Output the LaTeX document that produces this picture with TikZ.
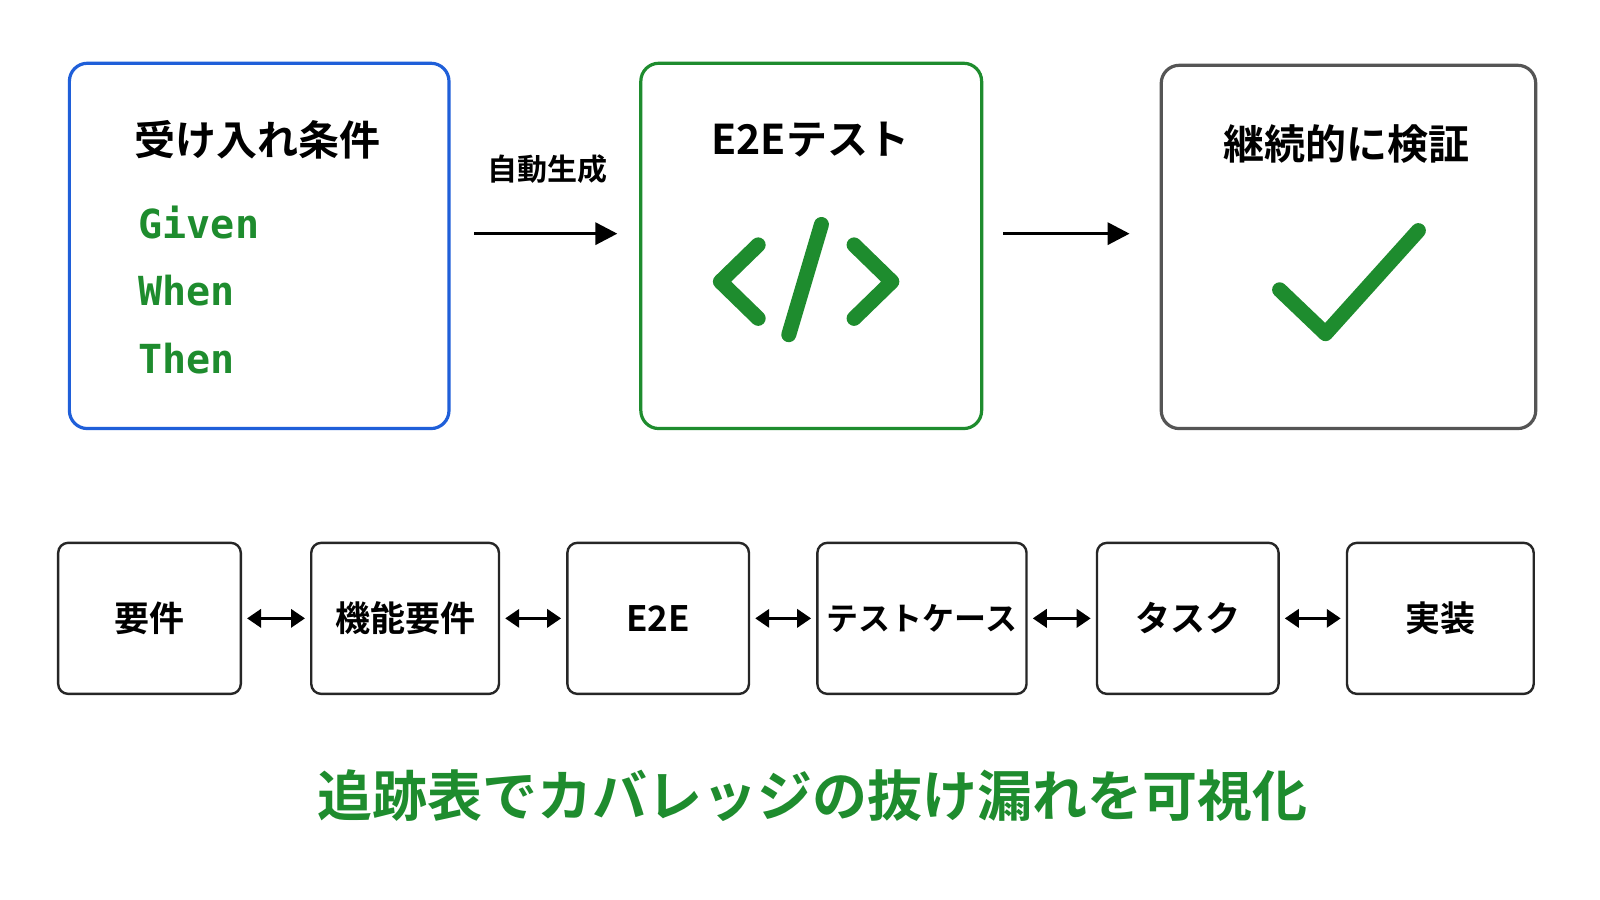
\documentclass[tikz,border=0pt]{standalone}
\usepackage{fontspec}
\setmainfont{Noto Sans CJK JP}
\newfontfamily\cjkb{Noto Sans CJK JP Bold}
\newfontfamily\monob{DejaVu Sans Mono Bold}
\usetikzlibrary{arrows.meta}
\definecolor{gr}{HTML}{1E8C2E}
\definecolor{bl}{HTML}{1F5FD9}
\definecolor{gy}{HTML}{555555}
\begin{document}
\begin{tikzpicture}[x=0.51pt,y=-0.51pt,
 big/.style={rounded corners=9pt,line width=1.6pt},
 small/.style={draw=black!85,rounded corners=5pt,line width=1.2pt,inner sep=1pt},
 lbl/.style={font=\cjkb\fontsize{17.5}{21}\selectfont},
 ttl/.style={font=\cjkb\fontsize{20.5}{24}\selectfont},
 gw/.style={font=\monob\fontsize{20}{24}\selectfont,text=gr,anchor=west},
 ico/.style={draw=gr,line width=7.5pt,line cap=round,line join=round},
 arr/.style={-{Triangle[length=11pt,width=11pt]},line width=1.7pt},
 darr/.style={{Triangle[length=7pt,width=9pt]}-{Triangle[length=7pt,width=9pt]},line width=1.7pt}]
\useasboundingbox (0,0) rectangle (1568,882);
\fill[white] (0,0) rectangle (1568,882);
\draw[big,draw=bl] (68,62) rectangle (440,420);
\draw[big,draw=gr] (628,62) rectangle (962,420);
\draw[big,draw=gy] (1138,64) rectangle (1505,420);
\node[ttl] (t1) at (252,137) {受け入れ条件};
\node[gw] (g) at (129,218) {Given};
\node[gw] (w) at (129,285) {When};
\node[gw] (th) at (129,351) {Then};
\node[ttl] (t2) at (794,137) {E2Eテスト};
\node[ttl] (t3) at (1320,141) {継続的に検証};
\node[font=\cjkb\fontsize{15}{18}\selectfont] (auto) at (537,166) {自動生成};
\coordinate (a1) at (465,229); \coordinate (a2) at (605,229);
\coordinate (a3) at (983,229); \coordinate (a4) at (1107,229);
\draw[arr] (a1) -- (a2);
\draw[arr] (a3) -- (a4);
\draw[ico] (743,240) -- (706,276) -- (743,312);
\draw[ico] (837,240) -- (874,276) -- (837,312);
\draw[ico] (805,220) -- (773,328);
\draw[ico] (1254,284) -- (1299,327) -- (1390,226);
\foreach \n/\a/\b/\t in {b1/57/236/要件,b2/305/489/機能要件,b3/556/734/E2E,b4/801/1006/{\fontsize{16}{19}\selectfont テストケース},b5/1075/1253/タスク,b6/1320/1503/実装}{
 \node[small,lbl,minimum width={(\b-\a)*0.51pt},minimum height=75.5pt] (\n) at ({(\a+\b)/2},606) {\t};}
\foreach \p/\q in {b1/b2,b2/b3,b3/b4,b4/b5,b5/b6}{\draw[darr] ([xshift=2.5pt]\p.east) -- ([xshift=-2.5pt]\q.west);}
\node[font=\cjkb\fontsize{27.5}{32}\selectfont,text=gr] (bot) at (796,780) {追跡表でカバレッジの抜け漏れを可視化};
\end{tikzpicture}
\end{document}
